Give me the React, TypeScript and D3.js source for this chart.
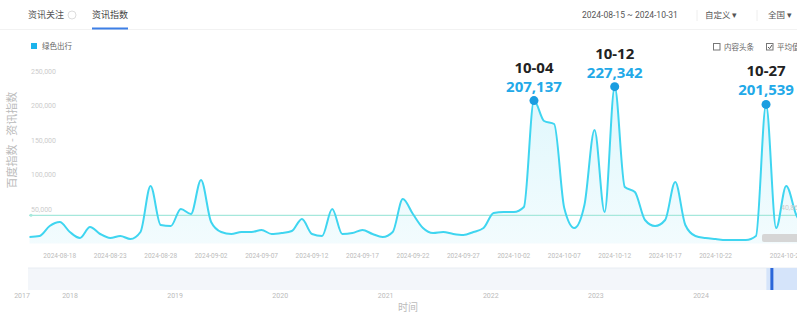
import * as React from 'react';
import * as d3 from 'd3';

// 资讯指数 daily values, 2024-08-15 .. 2024-10-31
const startDay = new Date(Date.UTC(2024, 7, 15));
const endDay = new Date(Date.UTC(2024, 9, 31));
const days = d3.utcDays(startDay, d3.utcDay.offset(endDay, 1));
const values = [
  9420, 10870, 25360, 31160, 16670, 7970, 23910, 13770, 7970, 10870,
  6520, 16670, 83330, 26810, 25360, 50000, 42750, 92030, 31160, 16670,
  13770, 16670, 16670, 19570, 13770, 15220, 18120, 35510, 13770, 10870,
  50000, 13770, 15220, 19570, 13770, 9420, 16670, 64490, 42750, 22460,
  15220, 16670, 13770, 12320, 16670, 22460, 44200, 45650, 45650, 52900,
  207137, 177540, 173190, 51450, 22460, 55800, 164490, 45650, 227342, 81880,
  74640, 34060, 25360, 34060, 89130, 26810, 10870, 7970, 6520, 5070,
  5070, 5070, 10870, 201539, 22460, 83330, 41300, 19570,
];
const markedDays = ['2024-10-04', '2024-10-12', '2024-10-27'];
const yTicks = [50000, 100000, 150000, 200000, 250000];
const xTickLabels = [
  '2024-08-18', '2024-08-23', '2024-08-28', '2024-09-02', '2024-09-07',
  '2024-09-12', '2024-09-17', '2024-09-22', '2024-09-27', '2024-10-02',
  '2024-10-07', '2024-10-12', '2024-10-17', '2024-10-22', '2024-10-29',
];
const sliderYears = ['2018', '2019', '2020', '2021', '2022', '2023', '2024'];

const CJK = '"Noto Sans CJK SC", "Noto Sans", sans-serif';
const parse = d3.utcParse('%Y-%m-%d');

export default function App() {
  const W = 797, H = 313;
  const x = d3.scaleTime().domain([startDay, endDay]).range([29.5, 806.4]);
  const y = d3.scaleLinear().domain([0, 250000]).range([243.5, 71]);

  const data = days.map((d, i) => ({ date: d, value: values[i] }));
  const line = d3.line<any>().x(d => x(d.date)).y(d => y(d.value)).curve(d3.curveMonotoneX);
  const area = d3.area<any>().x(d => x(d.date)).y0(y(0)).y1(d => y(d.value)).curve(d3.curveMonotoneX);
  const avg = d3.mean(values) as number;
  const fmt = d3.format(',');
  const md = d3.utcFormat('%m-%d');

  const marks = markedDays.map(s => {
    const dt = parse(s) as Date;
    const i = d3.bisector((d: Date) => d.getTime()).left(days, dt.getTime());
    return { date: dt, value: values[i] };
  });

  // slider (whole history)
  const sx = d3.scaleTime()
    .domain([new Date(Date.UTC(2018, 0, 1)), new Date(Date.UTC(2024, 0, 1))])
    .range([70, 701]);
  const sliderLeft = 28;

  return (
    <svg width={W} height={H} style={{ position: 'absolute', left: 0, top: 0, background: '#fff' }}>
      <defs>
        <linearGradient id="fillG" x1="0" y1="0" x2="0" y2="1">
          <stop offset="0" stopColor="#c9f1fa" stopOpacity={0.6} />
          <stop offset="1" stopColor="#e8f9fd" stopOpacity={0.55} />
        </linearGradient>
        <clipPath id="plot">
          <rect x={0} y={40} width={W} height={210} />
        </clipPath>
      </defs>

      {/* header */}
      <text x={28} y={18} fontSize={9} fill="#555" fontFamily={CJK}>资讯关注</text>
      <circle cx={72} cy={15} r={4} fill="none" stroke="#ddd" />
      <text x={92} y={18} fontSize={9} fill="#444" fontFamily={CJK}>资讯指数</text>
      <line x1={0} x2={W} y1={29.5} y2={29.5} stroke="#f2f2f2" />
      <rect x={92} y={27.5} width={36} height={2} fill="#3d7fe6" />
      <text x={582} y={18} fontSize={8.5} fill="#555" fontFamily="Roboto, sans-serif">2024-08-15 ~ 2024-10-31</text>
      <line x1={697} x2={697} y1={10} y2={21} stroke="#eee" />
      <text x={705} y={18} fontSize={8.5} fill="#555" fontFamily={CJK}>自定义 ▾</text>
      <line x1={757} x2={757} y1={10} y2={21} stroke="#eee" />
      <text x={768} y={18} fontSize={8.5} fill="#555" fontFamily={CJK}>全国 ▾</text>

      {/* legends */}
      <rect x={31} y={43} width={6} height={6} fill="#1cb4ec" />
      <text x={42} y={49} fontSize={7.5} fill="#666" fontFamily={CJK}>绿色出行</text>
      <rect x={713.5} y={43.5} width={6.5} height={6.5} fill="none" stroke="#777" />
      <text x={724} y={50} fontSize={7.5} fill="#666" fontFamily={CJK}>内容头条</text>
      <rect x={766.5} y={43.5} width={6.5} height={6.5} fill="none" stroke="#777" />
      <path d="M768 47 L769.6 48.6 L772 45" fill="none" stroke="#555" strokeWidth={1} />
      <text x={777} y={50} fontSize={7.5} fill="#666" fontFamily={CJK}>平均值</text>

      {/* y axis */}
      <text transform="translate(16,140) rotate(-90)" textAnchor="middle" fontSize={11} fill="#bbb" fontFamily={CJK}>百度指数 - 资讯指数</text>
      {yTicks.map(t => (
        <text key={t} x={31} y={y(t) + 2.5} fontSize={7} fill="#ccc" fontFamily="Roboto, sans-serif">{fmt(t)}</text>
      ))}

      {/* series */}
      <g clipPath="url(#plot)">
        <path d={area(data) as string} fill="url(#fillG)" />
        <line x1={29} x2={W} y1={y(avg)} y2={y(avg)} stroke="#a6e8dc" strokeWidth={1.2} />
        <circle cx={31} cy={y(avg)} r={1.5} fill="#a6e8dc" />
        <path d={line(data) as string} fill="none" stroke="#3fd5f0" strokeWidth={2} />
      </g>
      <text x={781} y={y(avg) - 5} fontSize={7} fill="#ccc" fontFamily="Roboto, sans-serif">{fmt(Math.round(avg))}</text>
      <rect x={762} y={234} width={40} height={8} rx={2} fill="#d6d6d6" />

      {marks.map(m => (
        <g key={m.date.getTime()}>
          <circle cx={x(m.date)} cy={y(m.value)} r={4.5} fill="#1a9de0" />
          <text x={x(m.date)} y={y(m.value) - 28} textAnchor="middle" fontSize={15} fontWeight={700} fill="#222" fontFamily="'Noto Sans', sans-serif">{md(m.date)}</text>
          <text x={x(m.date)} y={y(m.value) - 9} textAnchor="middle" fontSize={15} fontWeight={700} fill="#22a9e8" fontFamily="'Noto Sans', sans-serif">{fmt(m.value)}</text>
        </g>
      ))}

      {/* x axis */}
      {xTickLabels.map(s => (
        <text key={s} x={x(parse(s) as Date)} y={258} textAnchor="middle" fontSize={6.5} fill="#bbb" fontFamily="Roboto, sans-serif">{s}</text>
      ))}

      {/* slider */}
      <rect x={sliderLeft} y={268} width={W - sliderLeft} height={22} fill="#f3f6fa" />
      <line x1={sliderLeft} x2={W} y1={268} y2={268} stroke="#e8ecf2" />
      <rect x={sx(startDay)} y={268} width={W - sx(startDay)} height={22} fill="#d5e4fa" />
      <rect x={sx(startDay) + 4} y={268} width={3} height={22} fill="#2a66d9" />
      <text x={22} y={298} textAnchor="middle" fontSize={7} fill="#bbb" fontFamily="Roboto, sans-serif">2017</text>
      {sliderYears.map(s => (
        <text key={s} x={sx(new Date(Date.UTC(+s, 0, 1)))} y={298} textAnchor="middle" fontSize={7} fill="#bbb" fontFamily="Roboto, sans-serif">{s}</text>
      ))}
      <text x={408} y={311} textAnchor="middle" fontSize={10} fill="#bbb" fontFamily={CJK}>时间</text>
    </svg>
  );
}
